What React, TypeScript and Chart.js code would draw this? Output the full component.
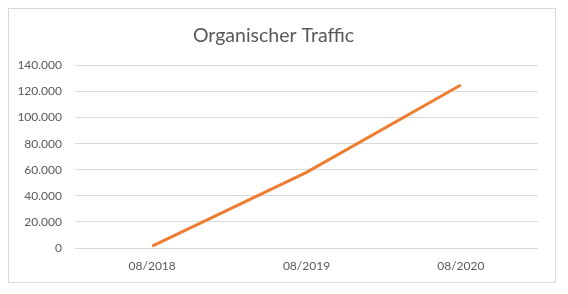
import React, { useEffect, useRef } from "react";
import { Chart, registerables } from "chart.js";

Chart.register(...registerables);

const categories = ["08/2018", "08/2019", "08/2020"];
const traffic = [1500, 58000, 125000];
const yTicks = [0, 20000, 40000, 60000, 80000, 100000, 120000, 140000];

const fmt = (v: number) => String(v).replace(/\B(?=(\d{3})+(?!\d))/g, ".");

export default function App() {
  const ref = useRef<HTMLCanvasElement | null>(null);
  useEffect(() => {
    if (!ref.current) return;
    const chart = new Chart(ref.current, {
      type: "line",
      data: {
        labels: categories,
        datasets: [
          {
            label: "Organischer Traffic",
            data: traffic,
            borderColor: "#ED7D31",
            backgroundColor: "#ED7D31",
            borderWidth: 3,
            pointRadius: 0,
            tension: 0,
          },
        ],
      },
      options: {
        animation: false,
        responsive: false,
        layout: { padding: { left: 0, right: 17, top: 0, bottom: 0 } },
        plugins: {
          legend: { display: false },
          tooltip: { enabled: false },
          title: {
            display: true,
            text: "Organischer Traffic",
            color: "#595959",
            font: { family: "Lato", size: 19.5, weight: "normal" },
            padding: { top: 15, bottom: 18 },
          },
        },
        scales: {
          x: {
            offset: true,
            grid: { display: false },
            border: { display: false },
            ticks: { color: "#595959", font: { family: "Lato", size: 12 }, padding: 3 },
            afterFit: (s: any) => {
              s.height = 34;
            },
          },
          y: {
            min: 0,
            max: 140000,
            afterBuildTicks: (s: any) => {
              s.ticks = yTicks.map((v) => ({ value: v }));
            },
            afterFit: (s: any) => {
              s.width = 66;
            },
            grid: { color: "#d9d9d9", drawTicks: false },
            border: { display: false },
            ticks: {
              color: "#595959",
              font: { family: "Lato", size: 12 },
              padding: 13,
              callback: (v: any) => fmt(Number(v)),
            },
          },
        },
      },
    });
    return () => chart.destroy();
  }, []);
  return (
    <div style={{ width: 546, height: 273, border: "1px solid #d9d9d9" }}>
      <canvas ref={ref} width={546} height={273} style={{ display: "block" }} />
    </div>
  );
}
